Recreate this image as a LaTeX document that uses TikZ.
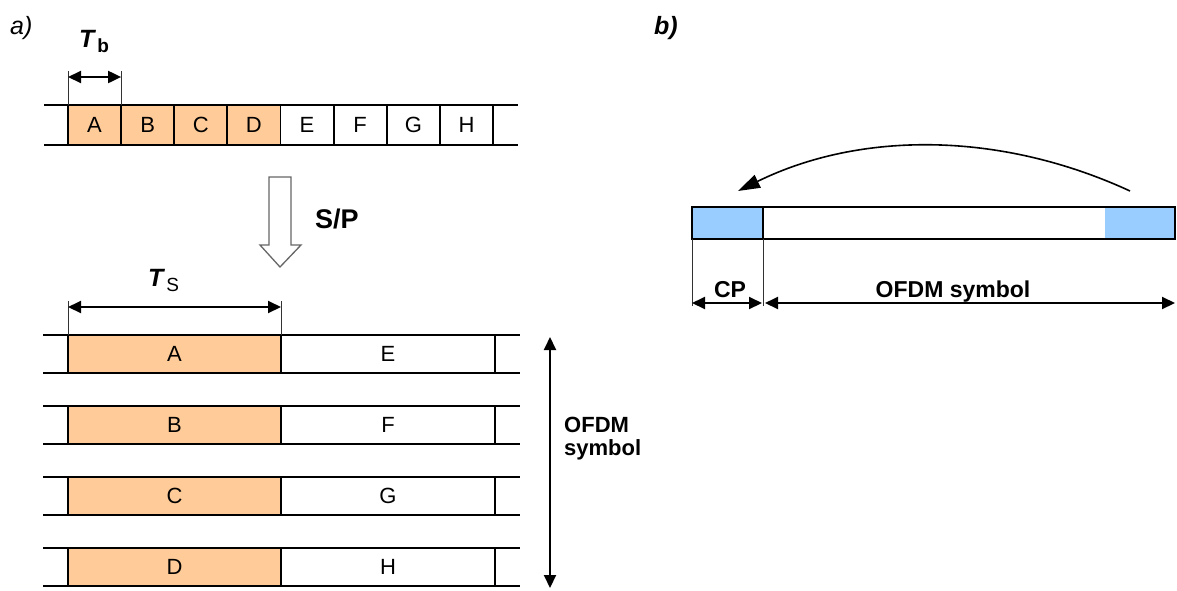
\documentclass[tikz,border=0pt]{standalone}
\usepackage{fontspec}
\setmainfont{Liberation Sans}
\usetikzlibrary{arrows.meta}
\definecolor{orng}{HTML}{FFCC99}
\definecolor{lblue}{HTML}{99CCFF}
\tikzset{
  cellbox/.style={draw=black,line width=1.8pt,inner sep=0pt,outer sep=0pt,anchor=north west,
    font=\fontsize{22}{22}\selectfont},
  rowline/.style={draw=black,line width=2.4pt},
  tickline/.style={draw=black!80,line width=0.9pt},
  dimarrow/.style={draw=black,line width=2pt,{Triangle[length=13pt,width=12pt]}-{Triangle[length=13pt,width=12pt]}},
  boldlbl/.style={font=\fontsize{23}{23}\selectfont\bfseries,inner sep=0pt},
  panel/.style={font=\fontsize{25}{25}\selectfont\itshape,inner sep=0pt,anchor=base west},
}
\begin{document}
\begin{tikzpicture}[x=1pt,y=-1pt]
\useasboundingbox (0,0) rectangle (1177,590);
% panel labels
\node[panel] (pa) at (10,34) {a)};
\node[panel,font=\fontsize{25}{25}\selectfont\itshape\bfseries] (pb) at (654,34) {b)};
% ---------- top serial row ----------
\foreach \l [count=\i from 0] in {A,B,C,D}
  \node[cellbox,fill=orng,minimum width=53.125pt,minimum height=40pt] (t\l) at (68+\i*53.125,105) {\l};
\foreach \l [count=\i from 4] in {E,F,G,H}
  \node[cellbox,fill=white,minimum width=53.125pt,minimum height=40pt] (t\l) at (68+\i*53.125,105) {\l};
\draw[rowline] (44,105) -- (518,105);
\draw[rowline] (44,145) -- (518,145);
% T_b dimension
\coordinate (tb1) at (68,71);
\coordinate (tb2) at (121.125,71);
\draw[tickline] (tA.north west) -- (tb1);
\draw[tickline] (tA.north east) -- (tb2);
\coordinate (tba) at (68,77);
\coordinate (tbb) at (121.125,77);
\draw[dimarrow] (tba) -- (tbb);
\node[inner sep=0pt,anchor=base west] (Tb) at (79,47)
  {\fontsize{25}{25}\selectfont\itshape\bfseries T\hspace{3pt}\raisebox{-5pt}{\upshape\fontsize{19}{19}\selectfont b}};
% ---------- S/P hollow arrow ----------
\draw[draw=black!60,line width=1.3pt,fill=white]
  (269,177) -- (291,177) -- (291,245) -- (301,245) -- (280,267) -- (260,245) -- (269,245) -- cycle;
\node[font=\fontsize{27}{27}\selectfont\bfseries,inner sep=0pt,anchor=base west] (sp) at (315,228) {S/P};
% ---------- parallel rows ----------
\foreach \l/\r [count=\i from 0] in {A/E,B/F,C/G,D/H}{
  \node[cellbox,fill=orng,minimum width=213pt,minimum height=38pt] (p\l) at (68,335+\i*71) {\l};
  \node[cellbox,fill=white,minimum width=214pt,minimum height=38pt] (p\r) at (281,335+\i*71) {\r};
  \draw[rowline] (43,335+\i*71) -- (520,335+\i*71);
  \draw[rowline] (43,373+\i*71) -- (520,373+\i*71);
}
% T_s dimension
\coordinate (ts1) at (68,301);
\coordinate (ts2) at (281,301);
\draw[tickline] (pA.north west) -- (ts1);
\draw[tickline] (pA.north east) -- (ts2);
\coordinate (tsa) at (68,307);
\coordinate (tsb) at (281,307);
\draw[dimarrow] (tsa) -- (tsb);
\node[inner sep=0pt,anchor=base west] (Ts) at (148,286)
  {\fontsize{25}{25}\selectfont\itshape\bfseries T\hspace{3pt}\raisebox{-5pt}{\upshape\mdseries\fontsize{19}{19}\selectfont S}};
% OFDM symbol vertical arrow
\coordinate (va) at (550,337);
\coordinate (vb) at (550,588);
\draw[dimarrow] (va) -- (vb);
\node[boldlbl,align=left,anchor=base west,font=\fontsize{22}{23}\selectfont\bfseries] (ofdm1) at (564,455) {OFDM\\symbol};
% ---------- part b ----------
\node[draw=black,line width=2.4pt,fill=white,minimum width=483pt,minimum height=32pt,inner sep=0pt,outer sep=0pt,anchor=north west] (sym) at (692,207) {};
\fill[lblue] (1105,208.2) rectangle (1173.8,237.8);
\node[draw=black,line width=2.4pt,fill=lblue,minimum width=71pt,minimum height=32pt,inner sep=0pt,outer sep=0pt,anchor=north west] (cp) at (692,207) {};
\draw[line width=2.4pt] (sym.north west) rectangle (sym.south east);
% curved arrow
\coordinate (cs) at (1130,191);
\coordinate (ce) at (738,191);
\draw[line width=1.6pt,-{Triangle[length=22pt,width=14pt]}] (cs) .. controls (1000,131) and (860,131) .. (ce);
% ticks and dimension arrows
\coordinate (c1) at (692,306);
\coordinate (c2) at (763,306);
\draw[tickline] (cp.south west) -- (c1);
\draw[tickline] (cp.south east) -- (c2);
\coordinate (cpa) at (692,303);
\coordinate (cpb) at (762,303);
\draw[dimarrow] (cpa) -- (cpb);
\coordinate (osa) at (765,303);
\coordinate (osb) at (1175,303);
\draw[dimarrow] (osa) -- (osb);
\node[boldlbl,anchor=base] (cpl) at (730,297) {CP};
\node[boldlbl,anchor=base] (osl) at (953,297) {OFDM symbol};
\end{tikzpicture}
\end{document}
